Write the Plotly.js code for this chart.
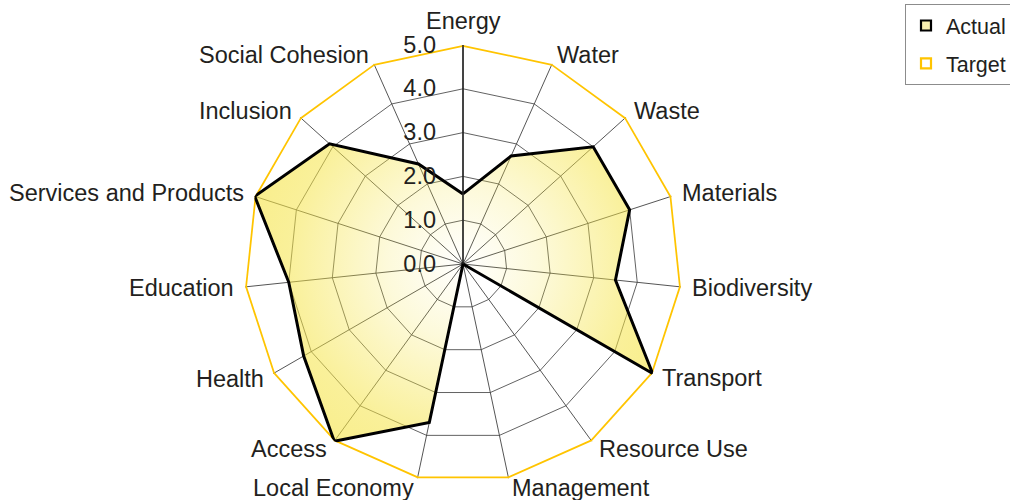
<!DOCTYPE html>
<html>
<head>
<meta charset="utf-8">
<script src="https://cdn.plot.ly/plotly-3.0.1.min.js"></script>
<style>html,body{margin:0;padding:0;background:#fff;}#chart{width:1010px;height:500px;}</style>
</head>
<body>
<div id="chart"></div>
<script>
var categories = ["Energy", "Water", "Waste", "Materials", "Biodiversity", "Transport", "Resource Use", "Management", "Local Economy", "Access", "Health", "Education", "Services and Products", "Inclusion", "Social Cohesion"];
var actualValues = [1.6, 2.7, 4.0, 4.0, 3.5, 5.0, 0, 0, 3.7, 5.0, 4.2, 4.0, 5.0, 4.1, 2.5];
var targetValues = [5, 5, 5, 5, 5, 5, 5, 5, 5, 5, 5, 5, 5, 5, 5];
var radialTicks = [0, 1, 2, 3, 4, 5];
var radialTickLabels = ["0.0", "1.0", "2.0", "3.0", "4.0", "5.0"];
var seriesNames = ["Actual", "Target"];

var FONT = "Liberation Sans, Arial, sans-serif";
var TEXT = "#231f20";
var YELLOW = "#ffc400";
var LABEL_SIZE = 23.5;

function closed(a) { return a.concat([a[0]]); }

var traces = [
  {
    type: "scatterpolar", r: closed(targetValues), theta: closed(categories),
    mode: "lines", line: {color: YELLOW, width: 3.5}, fill: "none",
    showlegend: false, hoverinfo: "skip"
  },
  {
    type: "scatterpolar", r: closed(actualValues), theta: closed(categories),
    mode: "lines", line: {color: "#000000", width: 3},
    fill: "toself", fillcolor: "rgba(245,228,70,0.55)",
    showlegend: false, hoverinfo: "skip"
  },
  {
    type: "scatterpolar", r: [null], theta: [categories[0]], name: seriesNames[0],
    mode: "markers", legendgroup: "a",
    marker: {symbol: "square", size: 10, color: "#f9efb0", line: {color: "#000", width: 2.2}}
  },
  {
    type: "scatterpolar", r: [null], theta: [categories[0]], name: seriesNames[1],
    mode: "markers", legendgroup: "b",
    marker: {symbol: "square", size: 10, color: "#ffffff", line: {color: YELLOW, width: 2.2}}
  }
];

var cx = 463, cy = 264, R = 219, W = 1010, H = 500;

// category labels placed just outside each spoke of the polar grid
var annotations = categories.map(function (name, i) {
  var th = i * 2 * Math.PI / categories.length;
  var s = Math.sin(th), c = Math.cos(th);
  var d = R + 10;
  var px = cx + d * s, py = cy - d * c;
  var xa = Math.abs(s) < 0.1 ? "center" : (s > 0 ? "left" : "right");
  var ya = (xa === "center") ? (c > 0 ? "bottom" : "top") : "middle";
  return {
    xref: "paper", yref: "paper", x: px / W, y: 1 - py / H,
    xanchor: xa, yanchor: ya, text: name, showarrow: false, borderpad: 0,
    font: {family: FONT, size: LABEL_SIZE, color: TEXT}
  };
});

var layout = {
  width: W, height: H,
  margin: {l: 0, r: 0, t: 0, b: 0, autoexpand: false},
  paper_bgcolor: "#fff",
  font: {family: FONT, color: TEXT, size: 22},
  showlegend: true,
  legend: {
    x: 905 / W, y: 1 - 4 / H, xanchor: "left", yanchor: "top",
    bordercolor: "#8c8c8c", borderwidth: 1, bgcolor: "#fff",
    font: {family: FONT, size: 21.5, color: TEXT},
    tracegroupgap: 7, itemwidth: 30
  },
  annotations: annotations,
  polar: {
    domain: {x: [(cx - R) / W, (cx + R) / W], y: [(H - cy - R) / H, (H - cy + R) / H]},
    gridshape: "linear",
    bgcolor: "#fff",
    radialaxis: {
      range: [0, 5], tickvals: radialTicks, ticktext: radialTickLabels,
      angle: 90, side: "counterclockwise", tickangle: 90,
      showline: true, linecolor: "#222", linewidth: 1.5,
      gridcolor: "#3a3a3a", gridwidth: 0.8,
      ticks: "outside", ticklen: 18, tickcolor: "rgba(0,0,0,0)",
      tickfont: {family: FONT, size: LABEL_SIZE, color: TEXT}
    },
    angularaxis: {
      type: "category", categoryarray: categories,
      rotation: 90, direction: "clockwise", showticklabels: false,
      showline: false, gridcolor: "#2a2a2a", gridwidth: 0.8, ticks: ""
    }
  }
};

var gd = document.getElementById("chart");
Plotly.newPlot(gd, traces, layout, {displayModeBar: false, staticPlot: true}).then(function () {
  var ns = "http://www.w3.org/2000/svg";
  var svg = gd.querySelector("svg.main-svg");
  var defs = svg.querySelector("defs");
  var tr = gd.querySelectorAll(".scatterlayer .trace");
  if (tr.length < 2) return;
  var fillPath = tr[1].querySelector("path.js-fill");
  if (!fillPath) return;
  var m = fillPath.getScreenCTM().inverse();
  var p = svg.createSVGPoint(); p.x = cx; p.y = cy;
  var lp = p.matrixTransform(m);
  var g = document.createElementNS(ns, "radialGradient");
  g.setAttribute("id", "actualGrad");
  g.setAttribute("gradientUnits", "userSpaceOnUse");
  g.setAttribute("cx", lp.x); g.setAttribute("cy", lp.y); g.setAttribute("r", R);
  var stops = [[0, 0], [0.35, 0.2], [0.8, 0.55], [1, 0.62]];
  stops.forEach(function (s) {
    var st = document.createElementNS(ns, "stop");
    st.setAttribute("offset", s[0]); st.setAttribute("stop-color", "rgb(245,228,70)"); st.setAttribute("stop-opacity", s[1]);
    g.appendChild(st);
  });
  defs.appendChild(g);
  fillPath.style.fill = "url(#actualGrad)";
  fillPath.style.fillOpacity = 1;
});
</script>
</body>
</html>
